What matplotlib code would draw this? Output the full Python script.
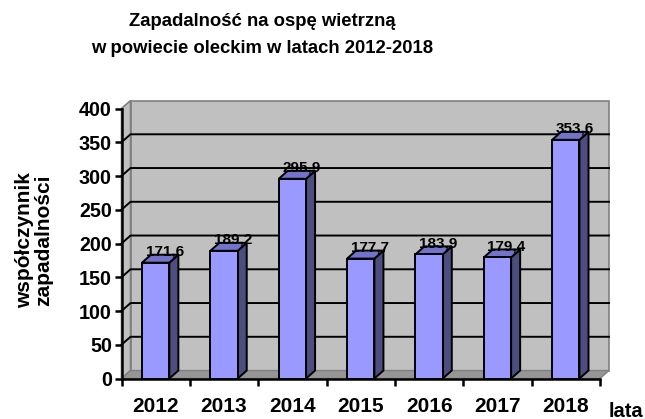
import matplotlib
matplotlib.use("Agg")
import matplotlib.pyplot as plt
from matplotlib.patches import Polygon

plt.rcParams['font.family'] = ['Liberation Sans', 'DejaVu Sans']
plt.rcParams['font.weight'] = 'bold'

# data
years = ['2012', '2013', '2014', '2015', '2016', '2017', '2018']
values = [171.6, 189.2, 295.9, 177.7, 183.9, 179.4, 353.6]
value_labels = ['171,6', '189,2', '295,9', '177,7', '183,9', '179,4', '353,6']
y_ticks = [0, 50, 100, 150, 200, 250, 300, 350, 400]

FRONT = '#9999ff'
SIDE = '#4d4d80'
TOP = '#7373cc'
WALL = '#c0c0c0'
FLOOR = '#969696'
EDGE_GRAY = '#808080'

fig = plt.figure(figsize=(6.45, 4.19), dpi=100)
ax = fig.add_axes([121.5 / 645, 40.5 / 419, 478.5 / 645, 270 / 419])
ax.set_xlim(0, len(years))
ax.set_ylim(0, 400)

# depth offset of the fake 3d look, in data units
dx = 0.132
dy = 11.8
n = len(years)
ymax = y_ticks[-1]

# back wall, left wall, floor
ax.add_patch(Polygon([(dx, dy), (n + dx, dy), (n + dx, ymax + dy), (dx, ymax + dy)],
                     closed=True, facecolor=WALL, edgecolor=EDGE_GRAY, lw=1.2,
                     clip_on=False, zorder=1))
ax.add_patch(Polygon([(0, 0), (dx, dy), (dx, ymax + dy), (0, ymax)],
                     closed=True, facecolor=WALL, edgecolor=EDGE_GRAY, lw=1.2,
                     clip_on=False, zorder=1))
ax.add_patch(Polygon([(0, 0), (n, 0), (n + dx, dy), (dx, dy)],
                     closed=True, facecolor=FLOOR, edgecolor=EDGE_GRAY, lw=1.0,
                     clip_on=False, zorder=2))

# gridlines on the walls
for t in y_ticks[1:-1]:
    ax.plot([0, dx, n + dx], [t, t + dy, t + dy], color='black', lw=1.4,
            clip_on=False, zorder=2)

# bars
w = 0.4
for i, v in enumerate(values):
    x0 = i + 0.5 - w / 2
    x1 = i + 0.5 + w / 2
    ax.add_patch(Polygon([(x1, 0), (x1 + dx, dy), (x1 + dx, v + dy), (x1, v)],
                         closed=True, facecolor=SIDE, edgecolor='black', lw=1.4,
                         clip_on=False, zorder=4))
    ax.add_patch(Polygon([(x0, v), (x0 + dx, v + dy), (x1 + dx, v + dy), (x1, v)],
                         closed=True, facecolor=TOP, edgecolor='black', lw=1.4,
                         clip_on=False, zorder=4))
    ax.add_patch(Polygon([(x0, 0), (x1, 0), (x1, v), (x0, v)],
                         closed=True, facecolor=FRONT, edgecolor='black', lw=1.4,
                         clip_on=False, zorder=5))
    ax.text(i + 0.5 + dx, v + dy - 1, value_labels[i], ha='center', va='baseline',
            fontsize=11, fontweight='bold', zorder=6)

# axes
for s in ['top', 'right']:
    ax.spines[s].set_visible(False)
for s in ['left', 'bottom']:
    ax.spines[s].set_linewidth(1.8)
    ax.spines[s].set_zorder(7)
ax.patch.set_visible(False)

ax.set_yticks(y_ticks)
ax.set_yticklabels([str(t) for t in y_ticks], fontsize=14.2, fontweight='bold')
ax.set_xticks(range(n + 1))
ax.set_xticklabels([])
ax.set_xticks([i + 0.5 for i in range(n)], minor=True)
ax.set_xticklabels(years, minor=True, fontsize=15, fontweight='bold')
ax.tick_params(axis='both', which='major', direction='out', length=5, width=1.8, pad=2)
ax.tick_params(axis='x', which='minor', length=0, pad=13)

fig.text(626 / 645, 1 - 411 / 419, 'lata', ha='center', va='center',
         fontsize=14.5, fontweight='bold')
fig.text(34 / 645, 1 - 240 / 419, 'współczynnik\nzapadalności', rotation=90,
         ha='center', va='center', multialignment='center',
         fontsize=15, fontweight='bold', linespacing=1.05)
fig.text(262 / 645, 1 - 22 / 419, 'Zapadalność na ospę wietrzną',
         ha='center', va='center', fontsize=13.3, fontweight='bold')
fig.text(262 / 645, 1 - 48.5 / 419, 'w powiecie oleckim w latach 2012-2018',
         ha='center', va='center', fontsize=13.3, fontweight='bold')

fig.savefig('out.png', dpi=100)
